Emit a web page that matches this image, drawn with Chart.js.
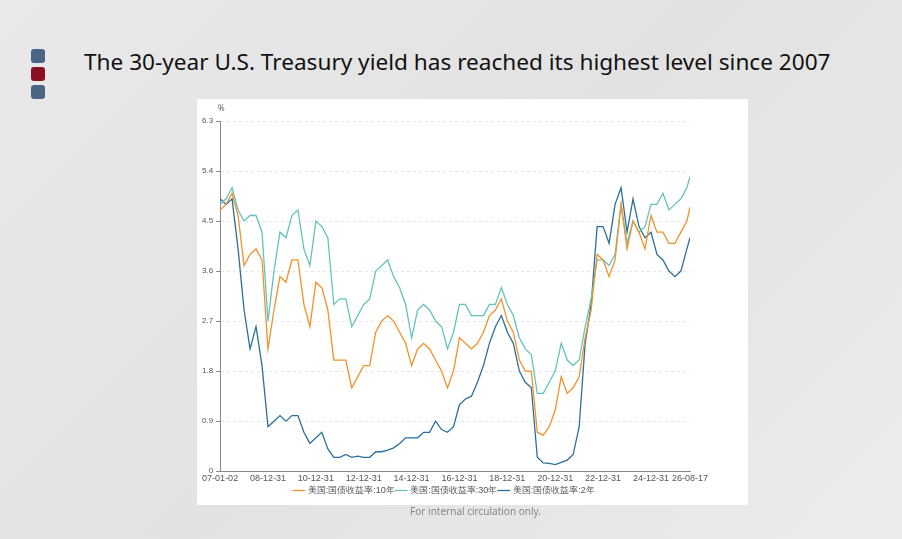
<!DOCTYPE html>
<html>
<head>
<meta charset="utf-8">
<script src="https://cdn.jsdelivr.net/npm/chart.js@4.4.1/dist/chart.umd.min.js"></script>
<style>
  body { margin: 0; width: 902px; height: 539px; overflow: hidden; font-family: "Noto Sans", "Open Sans", sans-serif;
    background: linear-gradient(135deg, #e9e9e9 0%, #e2e2e2 50%, #ececec 100%); position: relative; }
  .sq { position: absolute; left: 31px; width: 14px; height: 14px; border-radius: 3px; }
  .title { position: absolute; left: 84px; top: 46px; font-size: 22.6px; color: #111; }
  .card { position: absolute; left: 197px; top: 99px; width: 551px; height: 406px; background: #fff; }
  .foot { position: absolute; left: 0; width: 951px; top: 504px; text-align: center; font-size: 10px; color: #888; }
</style>
</head>
<body>
<div class="sq" style="top:49px;background:#4a6484"></div>
<div class="sq" style="top:67px;background:#8a0f22"></div>
<div class="sq" style="top:85px;background:#4a6484"></div>
<div class="title">The 30-year U.S. Treasury yield has reached its highest level since 2007</div>
<div class="card"><canvas id="c" width="551" height="406"></canvas></div>
<div class="foot">For internal circulation only.</div>
<script>
// x positions: quarters from 2007 to mid 2026, last point at 2026-08-17
const dates = [];
for (let i = 0; i < 79; i++) dates.push(2007 + i * 0.25);
dates.push(2026.63);

const tickPos = [2007.0, 2009, 2011, 2013, 2015, 2017, 2019, 2021, 2023, 2025, 2026.63];
const tickLabels = ['07-01-02', '08-12-31', '10-12-31', '12-12-31', '14-12-31', '16-12-31', '18-12-31', '20-12-31', '22-12-31', '24-12-31', '26-08-17'];

const y10 = [4.7, 4.8, 5.0, 4.6, 3.7, 3.9, 4.0, 3.8, 2.2, 2.9, 3.5, 3.4, 3.8, 3.8, 3.0, 2.6,
  3.4, 3.3, 2.9, 2.0, 2.0, 2.0, 1.5, 1.7, 1.9, 1.9, 2.5, 2.7, 2.8, 2.7, 2.5, 2.3,
  1.9, 2.2, 2.3, 2.2, 2.0, 1.8, 1.5, 1.8, 2.4, 2.3, 2.2, 2.3, 2.5, 2.8, 2.9, 3.1,
  2.7, 2.5, 2.0, 1.8, 1.8, 0.7, 0.65, 0.8, 1.1, 1.7, 1.4, 1.5, 1.7, 2.4, 2.9, 3.9,
  3.8, 3.5, 3.8, 4.8, 4.0, 4.5, 4.3, 4.0, 4.6, 4.3, 4.3, 4.1, 4.1, 4.3, 4.5, 4.75];
const y30 = [4.8, 4.9, 5.1, 4.7, 4.5, 4.6, 4.6, 4.3, 2.7, 3.6, 4.3, 4.2, 4.6, 4.7, 4.0, 3.7,
  4.5, 4.4, 4.2, 3.0, 3.1, 3.1, 2.6, 2.8, 3.0, 3.1, 3.6, 3.7, 3.8, 3.5, 3.3, 3.0,
  2.4, 2.9, 3.0, 2.9, 2.7, 2.6, 2.2, 2.5, 3.0, 3.0, 2.8, 2.8, 2.8, 3.0, 3.0, 3.3,
  3.0, 2.8, 2.4, 2.2, 2.1, 1.4, 1.4, 1.6, 1.8, 2.3, 2.0, 1.9, 2.0, 2.6, 3.1, 3.8,
  3.8, 3.7, 3.9, 4.8, 4.1, 4.5, 4.3, 4.4, 4.8, 4.8, 5.0, 4.7, 4.8, 4.9, 5.1, 5.3];
const y2 = [4.9, 4.8, 4.9, 4.0, 2.9, 2.2, 2.6, 1.9, 0.8, 0.9, 1.0, 0.9, 1.0, 1.0, 0.7, 0.5,
  0.6, 0.7, 0.4, 0.25, 0.25, 0.3, 0.25, 0.27, 0.25, 0.25, 0.35, 0.35, 0.38, 0.42, 0.5, 0.6,
  0.6, 0.6, 0.7, 0.7, 0.9, 0.75, 0.7, 0.8, 1.2, 1.3, 1.35, 1.6, 1.9, 2.3, 2.6, 2.8,
  2.5, 2.3, 1.8, 1.6, 1.5, 0.25, 0.15, 0.14, 0.12, 0.16, 0.2, 0.3, 0.8, 2.3, 3.0, 4.4,
  4.4, 4.1, 4.8, 5.1, 4.3, 4.9, 4.4, 4.2, 4.3, 3.9, 3.8, 3.6, 3.5, 3.6, 4.0, 4.2];

const names = ['美国:国债收益率:10年', '美国:国债收益率:30年', '美国:国债收益率:2年'];
const colors = ['#f0922a', '#62c4bd', '#2b6f98'];

function pts(arr) { return arr.map((v, i) => ({ x: dates[i], y: v })); }

const percentLabel = {
  id: 'percentLabel',
  afterDraw(chart) {
    const { ctx, chartArea } = chart;
    ctx.save();
    ctx.font = '8px "Noto Sans"';
    ctx.fillStyle = '#666';
    ctx.fillText('%', chartArea.left - 2, chartArea.top - 12);
    ctx.restore();
  }
};

new Chart(document.getElementById('c'), {
  type: 'line',
  data: {
    datasets: [pts(y10), pts(y30), pts(y2)].map((d, i) => ({
      label: names[i], data: d, borderColor: colors[i], backgroundColor: colors[i],
      borderWidth: 1.3, pointRadius: 0, tension: 0
    }))
  },
  options: {
    responsive: false, animation: false,
    layout: { padding: { top: 22, right: 58, left: 2, bottom: 0 } },
    plugins: {
      legend: {
        position: 'bottom',
        labels: { usePointStyle: true, pointStyle: 'line', boxWidth: 14, font: { size: 9 }, color: '#555', padding: 2 }
      },
      tooltip: { enabled: false }
    },
    scales: {
      x: {
        type: 'linear', min: 2007, max: 2026.63,
        afterBuildTicks(axis) { axis.ticks = tickPos.map(v => ({ value: v })); },
        ticks: { autoSkip: false, maxRotation: 0, font: { size: 9 }, color: '#555', padding: 0,
          callback: (v, i) => tickLabels[i] },
        grid: { display: false, drawTicks: true, tickLength: 2 },
        border: { color: '#888' }
      },
      y: {
        min: 0, max: 6.3,
        afterBuildTicks(axis) { axis.ticks = [0, 0.9, 1.8, 2.7, 3.6, 4.5, 5.4, 6.3].map(v => ({ value: v })); },
        ticks: { font: { size: 8 }, color: '#555', callback: v => v === 0 ? '0' : v.toFixed(1) },
        grid: { color: '#e6e6e6', drawTicks: true, tickLength: 4, tickColor: '#888' },
        border: { color: '#888', dash: [3, 3] }
      }
    }
  },
  plugins: [percentLabel]
});
</script>
</body>
</html>
